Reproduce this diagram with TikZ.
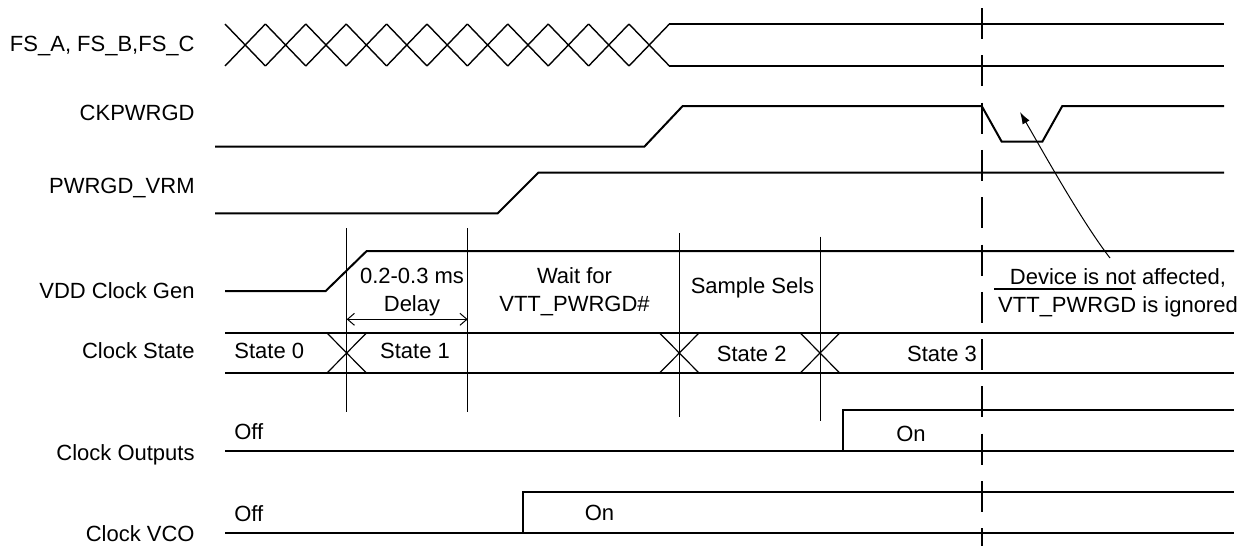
\documentclass[tikz,border=0pt]{standalone}
\usepackage{fontspec}
\setmainfont{Liberation Sans}
\usetikzlibrary{arrows.meta,calc,positioning}

\begin{document}
\begin{tikzpicture}[x=0.5pt,y=-0.5pt,
    wave/.style={line width=1pt},
    slant/.style={line width=0.7pt},
    guide/.style={line width=0.6pt},
    cursor/.style={line width=1.2pt,dash pattern=on 15.5pt off 8.15pt},
    signame/.style={anchor=base east,inner sep=0pt,font=\fontsize{11}{14}\selectfont},
    note/.style={anchor=base,inner sep=0pt,align=center,font=\fontsize{11}{14}\selectfont},
    delay/.style={{Straight Barb[length=3.5pt,width=6pt]}-{Straight Barb[length=3.5pt,width=6pt]},line width=0.5pt},
    arrow/.style={-{Latex[length=6pt,width=4pt]},line width=0.5pt}
  ]
  \useasboundingbox (0,0) rectangle (1254,546);

  \node[signame] (fs) at (195,51) {FS\_A, FS\_B,FS\_C};
  \node[signame] (ckpwrgd) at (195,120) {CKPWRGD};
  \node[signame] (vrm) at (195,193) {PWRGD\_VRM};
  \node[signame] (vdd) at (195,298) {VDD Clock Gen};
  \node[signame] (state) at (195,358) {Clock State};
  \node[signame] (outputs) at (195,460) {Clock Outputs};
  \node[signame] (vco) at (195,541) {Clock VCO};

  \foreach \k in {0,...,10}
    \draw[slant] ({225+40.4*\k},24) -- ({225+40.4*(\k+1)},66)
                 ({225+40.4*\k},66) -- ({225+40.4*(\k+1)},24);
  \draw[wave] (669.4,24) -- (1224,24) (669.4,66) -- (1224,66);

  \draw[wave] (215,146.7) -- (644.3,146.7) -- (682.7,106) -- (981.7,106)
    -- (1001.7,141.7) -- (1042.3,141.7) -- (1062.3,106) -- (1224,106);
  \draw[wave] (215,213.3) -- (497.7,213.3) -- (538.3,172.7) -- (1224,172.7);
  \draw[wave] (225,291) -- (325.7,291) -- (366.7,251) -- (1234,251);

  \draw[wave] (225,332.7) -- (1234,332.7) (225,373.3) -- (1234,373.3);
  \foreach \x in {346.7,679.3,820}
    \draw[guide] (\x-20,332.7) -- (\x+20,373.3) (\x-20,373.3) -- (\x+20,332.7);

  \draw[wave] (225,450.7) -- (1234,450.7);
  \draw[wave] (842.7,450.7) -- (842.7,410) -- (1234,410);
  \draw[wave] (225,532.7) -- (1234,532.7);
  \draw[wave] (523.3,532.7) -- (523.3,491.7) -- (1234,491.7);

  \draw[guide] (346.7,228.3) -- (346.7,412.3);
  \draw[guide] (467.7,228.3) -- (467.7,412.3);
  \draw[guide] (679.3,233.3) -- (679.3,417.3);
  \draw[guide] (820.7,236.7) -- (820.7,421);
  \draw[cursor] (981.7,8) -- (981.7,546);

  \coordinate (t0) at (346.7,319.3);
  \coordinate (t1) at (467.7,319.3);
  \draw[delay] (t0) -- (t1);

  \node[note] (delaytxt) at (412,311) {0.2-0.3 ms\\Delay};
  \node[note] (wait) at (574.5,311) {Wait for\\VTT\_PWRGD\#};
  \node[note] (sample) at (752.5,293) {Sample Sels};
  \node[note] (ignored) at (1118,312) {Device is not affected,\\VTT\_PWRGD is ignored};
  \draw[guide] (994,289) -- (1131.7,289);

  \node[note] (s0) at (269.3,358) {State 0};
  \node[note] (s1) at (415,358) {State 1};
  \node[note] (s2) at (751.7,361) {State 2};
  \node[note] (s3) at (942,361) {State 3};

  \node[note] (outoff) at (248.8,439.7) {Off};
  \node[note] (outon) at (911,441) {On};
  \node[note] (vcooff) at (248.8,521) {Off};
  \node[note] (vcoon) at (599.5,520.7) {On};

  \coordinate (tail) at (1110,258);
  \coordinate (glitch) at (1020,112);
  \draw[arrow] (tail) .. controls (1082,222) and (1042,150) .. (glitch);
\end{tikzpicture}
\end{document}
